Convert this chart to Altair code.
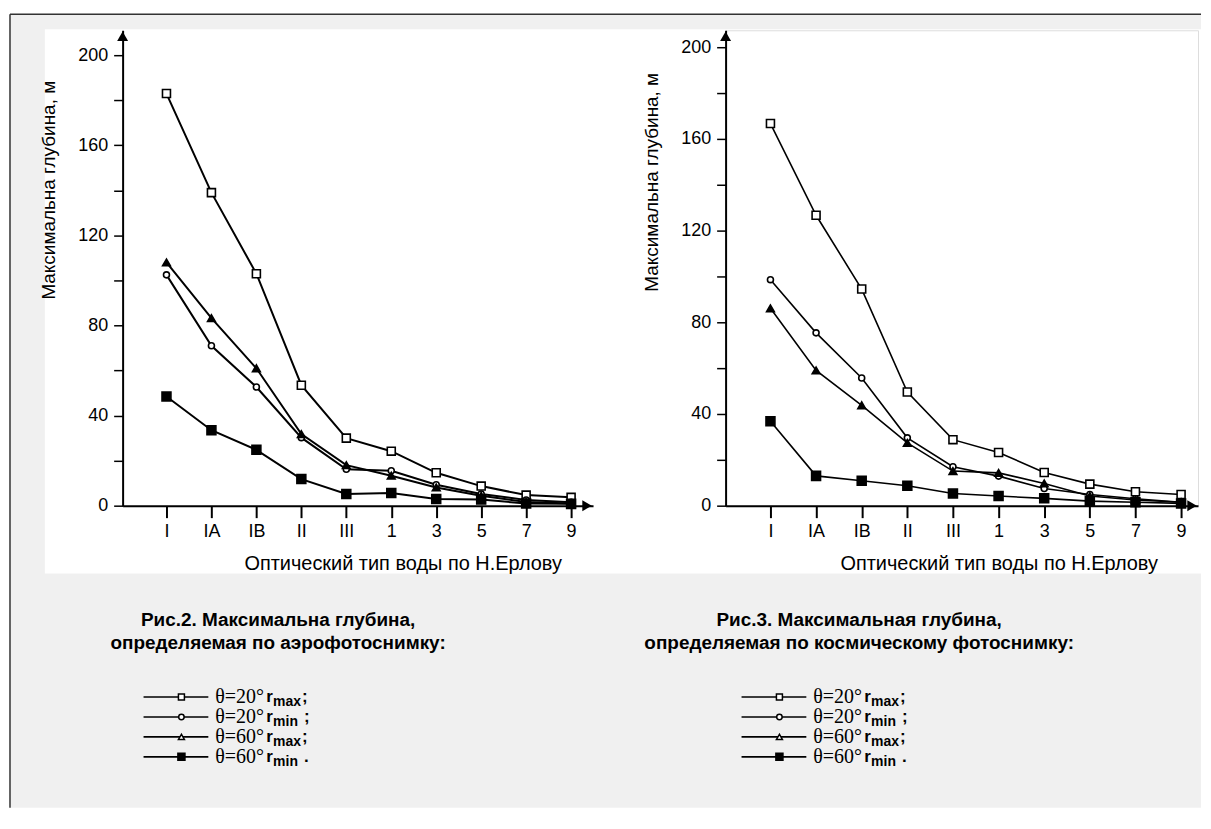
import altair as alt
import pandas as pd

# ---------------- data ----------------
categories = ["I", "IA", "IB", "II", "III", "1", "3", "5", "7", "9"]
series_keys = ["r20max", "r20min", "r60max", "r60min"]

# Рис.2 — aerial photo
aero_r20max = [183.0, 139.0, 103.0, 53.5, 30.0, 24.2, 14.6, 8.7, 4.7, 3.7]
aero_r20min = [102.5, 71.0, 52.7, 30.2, 16.2, 15.5, 9.3, 5.2, 2.5, 1.5]
aero_r60max = [108.0, 83.3, 61.0, 31.8, 18.0, 13.3, 8.1, 4.4, 1.6, 1.0]
aero_r60min = [48.5, 33.5, 24.8, 11.8, 5.2, 5.6, 3.0, 2.7, 1.0, 0.8]

# Рис.3 — satellite photo
space_r20max = [166.7, 126.7, 94.5, 49.6, 28.8, 23.2, 14.5, 9.4, 6.1, 4.9]
space_r20min = [98.6, 75.4, 55.7, 29.6, 17.0, 12.9, 7.5, 4.9, 3.0, 1.5]
space_r60max = [86.1, 59.0, 43.8, 27.4, 15.1, 14.3, 9.7, 4.2, 2.5, 1.5]
space_r60min = [36.8, 13.0, 10.9, 8.7, 5.3, 4.2, 3.2, 2.0, 1.5, 1.0]

y_ticks = [0, 20, 40, 60, 80, 100, 120, 140, 160, 180, 200]
y_title = "Максимальна глубина, м"
x_title = "Оптический тип воды по Н.Ерлову"
caption_left = ["Рис.2. Максимальна глубина,", "определяемая по аэрофотоснимку:"]
caption_right = ["Рис.3. Максимальная глубина,", "определяемая по космическому фотоснимку:"]
legend_theta = ["θ=20°", "θ=20°", "θ=60°", "θ=60°"]
legend_r = ["r", "r", "r", "r"]
legend_sub = ["max", "min", "max", "min"]
legend_end = [";", ";", ";", "."]

# ---------------- style ----------------
SANS = "Liberation Sans"
SERIF = "Liberation Serif"
H = 477
chart_styles = {
    "r20max": dict(shape="square", fill="white", size=64),
    "r20min": dict(shape="circle", fill="white", size=36),
    "r60max": dict(shape="triangle-up", fill="black", size=60),
    "r60min": dict(shape="square", fill="black", size=80),
}
legend_styles = {
    "r20max": dict(shape="square", fill="white", size=36),
    "r20min": dict(shape="circle", fill="white", size=30),
    "r60max": dict(shape="triangle-up", fill="white", size=36),
    "r60min": dict(shape="square", fill="black", size=50),
}


def one():
    return alt.Chart(alt.Data(values=[{}]))


def rect(x, x2, y, y2, fill):
    return one().mark_rect(fill=fill, stroke=None).encode(
        x=alt.value(x), x2=alt.value(x2), y=alt.value(y), y2=alt.value(y2))


def hline(x, x2, y, color="black", w=1.5):
    return one().mark_rule(color=color, strokeWidth=w).encode(
        x=alt.value(x), x2=alt.value(x2), y=alt.value(y))


def vline(x, y, y2, color="black", w=1.5):
    return one().mark_rule(color=color, strokeWidth=w).encode(
        x=alt.value(x), y=alt.value(y), y2=alt.value(y2))


def text(x, y, s, size=16, font=SANS, weight="normal", align="left", dy=0):
    return one().mark_text(font=font, fontSize=size, fontWeight=weight, align=align,
                           baseline="middle", color="black", dy=dy).encode(
        x=alt.value(x), y=alt.value(y), text=alt.value(s))


def legend(x0, y0):
    out = []
    for i, key in enumerate(series_keys):
        y = y0 + i * 20
        st = legend_styles[key]
        out.append(hline(x0, x0 + 65, y, w=1.6))
        out.append(one().mark_point(shape=st["shape"], filled=True, fill=st["fill"],
                                    stroke="black", strokeWidth=1.5, size=st["size"],
                                    opacity=1).encode(x=alt.value(x0 + 38), y=alt.value(y)))
        tx = x0 + 72
        out.append(text(tx, y, legend_theta[i], size=20, font=SERIF))
        out.append(text(tx + 51, y, legend_r[i], size=17, weight="bold"))
        out.append(text(tx + 58, y + 5, legend_sub[i], size=14, weight="bold"))
        end_x = tx + 87 if legend_sub[i] == "max" else tx + 89
        out.append(text(end_x, y, legend_end[i], size=17, weight="bold"))
    return out


def panel(vals, width, x_dom, y_max, lw, ytitle_y, xtitle_x, caption, cap_x, leg_x, extra):
    rows = []
    for key, v in zip(series_keys, vals):
        for i, val in enumerate(v):
            rows.append({"series": key, "idx": i, "cat": categories[i], "value": val})
    df = pd.DataFrame(rows)
    label_expr = "[" + ",".join("'%s'" % c for c in categories) + "][datum.value]"
    xenc = alt.X("idx:Q",
                 scale=alt.Scale(domain=x_dom, nice=False, zero=False),
                 axis=alt.Axis(values=list(range(len(categories))), labelExpr=label_expr,
                               title=x_title, titleX=xtitle_x, titleY=58, titleAlign="center",
                               titleBaseline="middle", titleFont=SANS, titleFontSize=20,
                               titleFontWeight="normal", titleColor="black",
                               labelFont=SANS, labelFontSize=18, labelColor="black",
                               labelPadding=5, labelFlush=False, labelOverlap=False,
                               tickSize=12, tickWidth=2, tickColor="black",
                               domainColor="black", domainWidth=2, grid=False, zindex=1))
    yenc = alt.Y("value:Q",
                 scale=alt.Scale(domain=[0, y_max], nice=False, zero=True),
                 axis=alt.Axis(values=y_ticks,
                               labelExpr="datum.value % 40 == 0 ? datum.label : ''",
                               title=y_title, titleX=-74, titleY=ytitle_y, titleAngle=-90,
                               titleAlign="center", titleBaseline="middle", titleFont=SANS,
                               titleFontSize=19, titleFontWeight="normal", titleColor="black",
                               labelFont=SANS, labelFontSize=18, labelColor="black",
                               labelPadding=6, labelOverlap=False, labelFlush=False,
                               tickSize=9, tickWidth=1.5, tickColor="black",
                               domainColor="black", domainWidth=2, grid=False, zindex=1))
    base = alt.Chart(df)
    layers = list(extra)
    layers.append(base.mark_line(color="black", strokeWidth=lw).encode(
        x=xenc, y=yenc, detail="series:N"))
    for key in series_keys:
        st = chart_styles[key]
        layers.append(base.transform_filter(alt.datum.series == key).mark_point(
            shape=st["shape"], filled=True, fill=st["fill"], stroke="black",
            strokeWidth=1.6, size=st["size"], opacity=1).encode(x=xenc, y=yenc))
    # axis arrows
    layers.append(one().mark_point(shape="triangle-up", filled=True, color="black",
                                   size=120, opacity=1).encode(x=alt.value(0), y=alt.value(6)))
    layers.append(one().mark_point(shape="triangle-right", filled=True, color="black",
                                   size=120, opacity=1).encode(x=alt.value(width - 6),
                                                               y=alt.value(H)))
    # caption
    layers.append(text(cap_x, 592, caption[0], size=19, weight="bold", align="center"))
    layers.append(text(cap_x, 615, caption[1], size=19, weight="bold", align="center"))
    layers += legend(leg_x, 669)
    return alt.layer(*layers).properties(width=width, height=H)


# page frame (coordinates relative to left panel plot area)
frame = [
    rect(-113, 1082, -20, -16, "white"),
    rect(-113, 1082, -16, 780, "#f0f0f0"),
    hline(-113, 1082, -16, color="#333333", w=1.5),
    vline(-113, -16, 780, color="#333333", w=1.5),
    rect(-78, 1082, -1, 545, "white"),
]

left = panel([aero_r20max, aero_r20min, aero_r60max, aero_r60min], 472,
             [-0.9754, 9.488], 211.1, 2.0, 160, 281, caption_left, 156, 21, frame)
right = panel([space_r20max, space_r20min, space_r60max, space_r60min], 474,
              [-0.983, 9.371], 207.4, 1.6, 152, 274, caption_right, 134, 16, [])

chart = alt.hconcat(left, right, spacing=133, bounds="flush").properties(
    padding=0).configure_view(stroke=None).configure(background="white")

chart.save("out.html", embed_options={"renderer": "svg", "actions": False})
